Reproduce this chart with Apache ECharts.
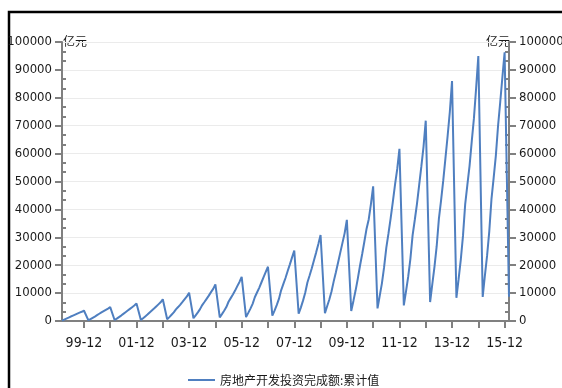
<!DOCTYPE html>
<html><head><meta charset="utf-8">
<script src="https://cdn.jsdelivr.net/npm/echarts@6/dist/echarts.min.js"></script>
<style>html,body{margin:0;padding:0;background:#fff}#c{width:562px;height:388px}</style>
</head><body><div id="c"></div>
<script>
// Cumulative values (亿元), Feb..Dec of each year (Jan-Feb reported together)
const v1999 = [150, 500, 850, 1200, 1600, 1950, 2300, 2650, 3000, 3300, 3750];
const v2000 = [300, 700, 1150, 1600, 2100, 2600, 3100, 3550, 4000, 4450, 4950];
const v2001 = [350, 850, 1400, 1950, 2550, 3150, 3750, 4350, 4950, 5550, 6300];
const v2002 = [400, 1000, 1650, 2300, 3050, 3750, 4450, 5200, 5950, 6700, 7800];
const v2003 = [600, 1400, 2250, 3100, 4150, 5000, 5900, 6850, 7850, 8800, 10150];
const v2004 = [1000, 2050, 3100, 4250, 5700, 6800, 7950, 9100, 10350, 11500, 13100];
const v2005 = [1300, 2450, 3650, 5000, 6900, 8200, 9500, 10900, 12500, 14000, 15800];
const v2006 = [1400, 2900, 4450, 6150, 8500, 10200, 11900, 13800, 15700, 17600, 19450];
const v2007 = [1900, 3700, 5700, 7900, 11000, 13200, 15400, 17900, 20300, 22800, 25250];
const v2008 = [2600, 4800, 7300, 10100, 13800, 16300, 18900, 21800, 24600, 27600, 30800];
const v2009 = [2800, 5300, 7700, 10600, 14200, 17500, 21000, 24500, 28000, 31500, 36250];
const v2010 = [3600, 7200, 11000, 15200, 19800, 24000, 28500, 33100, 36500, 42000, 48250];
const v2011 = [4500, 9000, 13500, 19300, 26200, 31400, 36900, 42800, 49000, 54500, 61700];
const v2012 = [5600, 10600, 15900, 22300, 30700, 36200, 42000, 48700, 55400, 62500, 71800];
const v2013 = [6800, 13200, 19500, 26800, 36600, 43200, 50400, 58400, 66400, 75000, 86000];
const v2014 = [8300, 15000, 22000, 30500, 41800, 48800, 55600, 64400, 72700, 83500, 95000];
const v2015 = [8600, 16300, 23400, 32100, 43700, 51300, 59300, 69900, 78500, 87500, 96300];
const v2016 = [8700];
const seriesName = '房地产开发投资完成额:累计值';
const unitLabel = '亿元';
const labelYears = ['99', '01', '03', '05', '07', '09', '11', '13', '15'];

const yearly = {1999:v1999,2000:v2000,2001:v2001,2002:v2002,2003:v2003,2004:v2004,2005:v2005,2006:v2006,
  2007:v2007,2008:v2008,2009:v2009,2010:v2010,2011:v2011,2012:v2012,2013:v2013,2014:v2014,2015:v2015,2016:v2016};
const categories = [], values = [];
for (let y = 1999; y <= 2016; y++) {
  const yy = String(y).slice(2), arr = yearly[y];
  for (let m = 1; m <= 12; m++) {
    if (y === 1999 && m === 1) continue;
    if (y === 2016 && m > 2) break;
    categories.push(yy + '-' + String(m).padStart(2, '0'));
    values.push(m === 1 ? null : arr[m - 2]);
  }
}

const numFont = "'DejaVu Sans Condensed', 'Liberation Sans', sans-serif";
const cjkFont = "'Noto Sans CJK SC', sans-serif";
const axisGray = '#808080';

function yAx(pos, main) {
  return {
    type: 'value', position: pos, min: 0, max: 100000, interval: 10000,
    axisLine: {show: main, lineStyle: {color: axisGray, width: 2}},
    axisTick: main ? {show: true, length: 7, lineStyle: {color: axisGray, width: 2}} : {show: false, inside: true},
    minorTick: main ? {show: false} : {show: true, splitNumber: 3, length: 4, lineStyle: {color: axisGray, width: 2}},
    axisLabel: main ? {show: true, margin: 10, color: '#1a1a1a', fontSize: 13, fontFamily: numFont,
      formatter: v => String(v)} : {show: false},
    splitLine: {show: main && pos === 'left', lineStyle: {color: '#ebebeb', width: 1}},
    minorSplitLine: {show: false}
  };
}

const chart = echarts.init(document.getElementById('c'), null, {renderer: 'canvas'});
chart.setOption({
  backgroundColor: '#fff',
  animation: false,
  grid: {left: 62, right: 53, top: 42, bottom: 67, containLabel: false, outerBoundsMode: 'none'},
  xAxis: {
    type: 'category', data: categories, boundaryGap: false,
    axisLine: {lineStyle: {color: axisGray, width: 2}},
    axisTick: {show: true, length: 7, interval: (i, v) => v.endsWith('-12'), lineStyle: {color: axisGray, width: 2}},
    axisLabel: {interval: (i, v) => v.endsWith('-12') && labelYears.includes(v.slice(0, 2)),
      margin: 15, color: '#1a1a1a', fontSize: 14, fontFamily: numFont},
    splitLine: {show: false}
  },
  yAxis: [yAx('left', true), yAx('right', true), yAx('left', false), yAx('right', false)],
  legend: {
    left: 183, top: 369, itemWidth: 27, itemHeight: 14, itemGap: 10,
    textStyle: {fontSize: 12, color: '#1a1a1a', fontFamily: cjkFont},
    data: [{name: seriesName, icon: 'path://M0,6H27V8H0Z'}]
  },
  series: [{
    name: seriesName, type: 'line', yAxisIndex: 0, data: values, connectNulls: true,
    symbol: 'none', lineStyle: {color: '#4f7fc0', width: 2}, itemStyle: {color: '#4f7fc0'}
  }],
  graphic: [
    {type: 'rect', shape: {x: 9, y: 12, width: 700, height: 600}, style: {fill: null, stroke: '#000', lineWidth: 2.5}, silent: true},
    {type: 'text', left: 63, top: 35, style: {text: unitLabel, font: "12px 'Noto Sans CJK SC'", fill: '#1a1a1a'}},
    {type: 'text', left: 486, top: 35, style: {text: unitLabel, font: "12px 'Noto Sans CJK SC'", fill: '#1a1a1a'}}
  ]
});
</script></body></html>
